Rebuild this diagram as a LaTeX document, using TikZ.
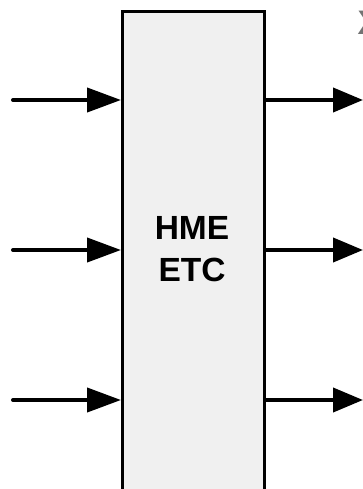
\documentclass[tikz,border=0pt]{standalone}
\usepackage{fontspec}
\setmainfont{Liberation Sans}
\usetikzlibrary{arrows.meta}
\begin{document}
\begin{tikzpicture}[x=1pt,y=-1pt,
  blockbox/.style={draw=black,line width=2.8pt,fill=black!6,minimum width=142pt,minimum height=490pt,inner sep=0pt,anchor=north west},
  inarrow/.style={line width=4pt,line cap=round,-{Triangle[length=34pt,width=24pt]}},
  outarrow/.style={line width=4pt,-{Triangle[length=30pt,width=24pt]}},
  lbl/.style={font=\fontsize{33.5}{42}\selectfont\bfseries,align=center}]
\useasboundingbox (0,0) rectangle (363,489);
\node[blockbox] (box) at (121,10) {};
\node[lbl] (txt) at (192,249) {HME\\ETC};
\node[font=\fontsize{34}{40}\selectfont\bfseries,text=black!55,anchor=center] (cut) at (369,23) {X};
\coordinate (i1) at (13,100);
\coordinate (i2) at (13,250);
\coordinate (i3) at (13,400);
\coordinate (o1) at (363,100);
\coordinate (o2) at (363,250);
\coordinate (o3) at (363,400);
\draw[inarrow] (i1) -- (box.west |- i1);
\draw[inarrow] (i2) -- (box.west |- i2);
\draw[inarrow] (i3) -- (box.west |- i3);
\draw[outarrow] (box.east |- o1) -- (o1);
\draw[outarrow] (box.east |- o2) -- (o2);
\draw[outarrow] (box.east |- o3) -- (o3);
\end{tikzpicture}
\end{document}
